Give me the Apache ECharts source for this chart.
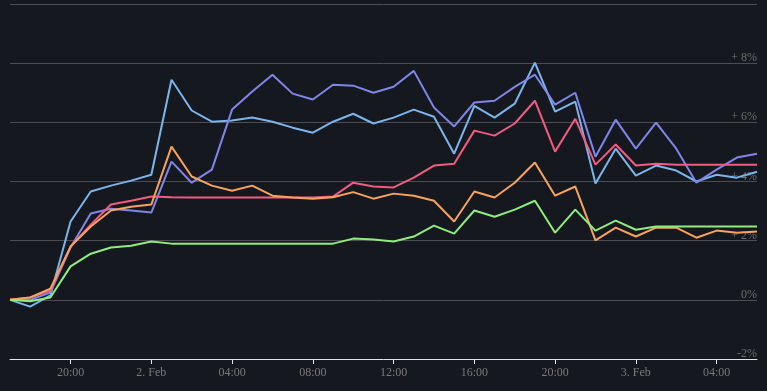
<!DOCTYPE html>
<html>
<head>
<meta charset="utf-8">
<script src="https://cdn.jsdelivr.net/npm/echarts@6/dist/echarts.min.js"></script>
<style>
html,body{margin:0;padding:0;background:#16181f;}
#c{width:767px;height:391px;}
</style>
</head>
<body>
<div id="c"></div>
<script>
const hours = ['17:00','18:00','19:00','20:00','21:00','22:00','23:00','2. Feb','01:00','02:00','03:00','04:00','05:00','06:00','07:00','08:00','09:00','10:00','11:00','12:00','13:00','14:00','15:00','16:00','17:00','18:00','19:00','20:00','21:00','22:00','23:00','3. Feb','01:00','02:00','03:00','04:00','05:00','06:00'];

const seriesLightBlue = [0,-0.23,0.15,2.65,3.66,3.86,4.03,4.23,7.44,6.40,6.02,6.06,6.16,6.02,5.82,5.65,6.02,6.29,5.96,6.16,6.43,6.19,4.94,6.56,6.16,6.63,8.02,6.36,6.70,3.93,5.11,4.20,4.54,4.37,4.00,4.23,4.13,4.33];
const seriesPurple = [0,0,0.25,1.77,2.92,3.08,3.02,2.95,4.67,3.96,4.40,6.43,7.04,7.61,6.97,6.77,7.27,7.24,7.00,7.20,7.74,6.50,5.86,6.67,6.73,7.20,7.61,6.60,7.00,4.84,6.09,5.11,5.99,5.11,3.96,4.40,4.81,4.94];
const seriesPink = [0,0.08,0.31,1.80,2.54,3.22,3.35,3.49,3.47,3.46,3.46,3.46,3.46,3.46,3.46,3.46,3.49,3.96,3.83,3.80,4.13,4.54,4.60,5.72,5.55,5.96,6.73,5.01,6.12,4.57,5.25,4.54,4.60,4.57,4.57,4.57,4.57,4.57];
const seriesOrange = [0,0.08,0.38,1.80,2.48,3.02,3.15,3.22,5.18,4.17,3.86,3.69,3.86,3.52,3.46,3.42,3.47,3.64,3.42,3.59,3.52,3.35,2.65,3.66,3.46,3.96,4.64,3.52,3.83,2.01,2.44,2.14,2.44,2.44,2.10,2.34,2.27,2.31];
const seriesGreen = [0,-0.05,0.08,1.13,1.56,1.77,1.83,1.97,1.90,1.90,1.90,1.90,1.90,1.90,1.90,1.90,1.90,2.07,2.04,1.97,2.14,2.51,2.24,3.02,2.81,3.05,3.35,2.27,3.05,2.34,2.68,2.37,2.48,2.48,2.48,2.48,2.48,2.48];

const yTicks = [-2,0,2,4,6,8,10];

const font = 'Liberation Serif';
const chart = echarts.init(document.getElementById('c'), null, {renderer:'canvas'});
const mk = (name, data, color) => ({
  name, type:'line', data, showSymbol:false, symbol:'none',
  lineStyle:{color, width:2}, itemStyle:{color}, animation:false
});
chart.setOption({
  backgroundColor:'#16181f',
  animation:false,
  grid:{left:10, right:10, top:4, bottom:32},
  xAxis:{
    type:'category', data:hours, boundaryGap:false,
    axisLine:{onZero:false, lineStyle:{color:'#e6e6e6', width:1}},
    axisTick:{show:true, length:5, lineStyle:{color:'#e6e6e6'}, interval:(i)=> (i-3)%4===0, alignWithLabel:true},
    axisLabel:{color:'#7a7a7a', fontFamily:font, fontSize:12, margin:8, interval:(i)=> (i-3)%4===0},
    splitLine:{show:false}
  },
  yAxis:{
    type:'value', position:'right', min:yTicks[0], max:yTicks[yTicks.length-1], interval:2,
    axisLine:{show:false}, axisTick:{show:false},
    splitLine:{lineStyle:{color:'#4c4c52', width:1}},
    axisLabel:{
      inside:true, margin:0, color:'#6e6e6e', fontFamily:font, fontSize:12,
      verticalAlign:'bottom', padding:[0,0,-1,0], showMaxLabel:false,
      formatter:(v)=> v===10 ? '' : (v>0 ? '+ ' + v + '%' : v + '%')
    }
  },
  series:[
    mk('A', seriesLightBlue, '#7cb5ec'),
    mk('B', seriesPurple, '#8085e9'),
    mk('C', seriesPink, '#f15c80'),
    mk('D', seriesOrange, '#f7a35c'),
    mk('E', seriesGreen, '#90ed7d')
  ]
});
</script>
</body>
</html>
